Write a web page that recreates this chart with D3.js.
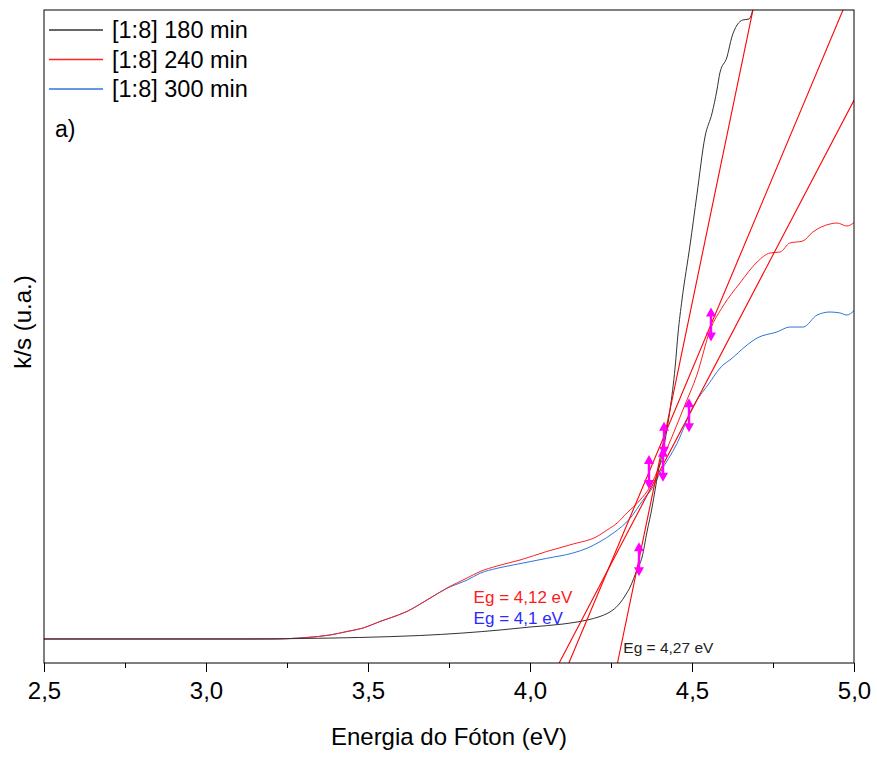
<!DOCTYPE html>
<html lang="pt">

<head>
    <title>Eg - k/s vs energia do fóton</title>
    <meta charset="utf-8">
    <script src="https://d3js.org/d3.v7.min.js"></script>
    <style>
        body { margin: 0; background: #fff; }
        svg { display: block; font-family: "Liberation Sans", Arial, sans-serif; }
    </style>
</head>

<body>
    <div id="container1"></div>
    <script>
        // Data (energy in eV, k/s in arbitrary units)
        const series = ["[1:8] 180 min", "[1:8] 240 min", "[1:8] 300 min"];
        const colors = ["#333333", "#ff2020", "#2f74dc"];

        const energy180 = [2.5, 3.136, 3.29, 3.475, 3.66, 3.793, 3.907, 4.0, 4.102, 4.176, 4.216, 4.238, 4.256, 4.278, 4.293, 4.309, 4.33, 4.346, 4.361, 4.377, 4.386, 4.395, 4.417, 4.432, 4.448, 4.457, 4.469, 4.494, 4.515, 4.54, 4.562, 4.577, 4.586, 4.608, 4.623, 4.639, 4.657, 4.676, 4.685, 4.694];
        const ks180 = [0.0368, 0.0368, 0.0375, 0.0391, 0.0421, 0.0459, 0.0505, 0.0551, 0.0597, 0.0658, 0.0712, 0.0758, 0.0812, 0.0919, 0.1026, 0.1164, 0.1424, 0.1623, 0.2006, 0.2389, 0.2649, 0.291, 0.3415, 0.3874, 0.4533, 0.5054, 0.5559, 0.6401, 0.7167, 0.8055, 0.8423, 0.8775, 0.9035, 0.928, 0.9587, 0.977, 0.9847, 0.9862, 0.9954, 1.0153];

        const energy240 = [2.5, 3.198, 3.312, 3.383, 3.435, 3.485, 3.537, 3.568, 3.62, 3.682, 3.744, 3.806, 3.846, 3.898, 3.969, 4.052, 4.133, 4.207, 4.238, 4.269, 4.299, 4.34, 4.37, 4.401, 4.438, 4.478, 4.515, 4.556, 4.596, 4.648, 4.701, 4.741, 4.772, 4.802, 4.842, 4.873, 4.926, 4.948, 4.978, 5.0];
        const ks240 = [0.0368, 0.0368, 0.0391, 0.0429, 0.0482, 0.0536, 0.0636, 0.0689, 0.0789, 0.0965, 0.1149, 0.1302, 0.1401, 0.1485, 0.1577, 0.1708, 0.1822, 0.1937, 0.2037, 0.2144, 0.2297, 0.2496, 0.2695, 0.3032, 0.3461, 0.3951, 0.441, 0.5099, 0.5467, 0.5819, 0.6141, 0.6279, 0.6294, 0.6432, 0.6462, 0.66, 0.6723, 0.6738, 0.6692, 0.6743];

        const energy300 = [2.5, 3.198, 3.312, 3.383, 3.435, 3.485, 3.537, 3.568, 3.62, 3.682, 3.744, 3.806, 3.846, 3.898, 3.948, 4.052, 4.133, 4.176, 4.216, 4.256, 4.309, 4.349, 4.38, 4.401, 4.454, 4.503, 4.549, 4.596, 4.617, 4.67, 4.701, 4.762, 4.802, 4.843, 4.886, 4.926, 4.957, 4.978, 5.0];
        const ks300 = [0.0368, 0.0368, 0.0391, 0.0429, 0.0482, 0.0536, 0.0636, 0.0689, 0.0789, 0.0965, 0.1144, 0.1271, 0.1374, 0.145, 0.1501, 0.1603, 0.1685, 0.1757, 0.1858, 0.1986, 0.2216, 0.2496, 0.27, 0.2905, 0.3365, 0.3925, 0.4257, 0.4564, 0.464, 0.487, 0.4977, 0.5069, 0.5145, 0.5145, 0.5329, 0.5375, 0.536, 0.5329, 0.5395];

        // Tangent fits: intercept with baseline (Eg) and slope
        const fitEg = [4.27, 4.12, 4.09];
        const fitSlope = [2.392, 1.182, 0.947];
        // x of the two picked points on each tangent
        const fitPoints = [[4.3364, 4.4136], [4.3673, 4.5586], [4.4105, 4.4907]];

        const egLabels = ["Eg = 4,27 eV", "Eg = 4,12 eV", "Eg = 4,1 eV"];
        const egLabelPos = [[4.288, 0.015], [3.826, 0.092], [3.826, 0.06]];
        const egLabelColors = ["#222222", "#ff1a1a", "#2a2aff"];
        const egLabelSizes = [15.5, 17, 17];

        const majorTicks = [2.5, 3.0, 3.5, 4.0, 4.5, 5.0];
        const minorTicks = [2.75, 3.25, 3.75, 4.25, 4.75];

        // Chart dimensions
        const width = 877;
        const height = 758;
        const margin = { top: 10, right: 23, bottom: 95, left: 44 };
        const innerWidth = width - margin.left - margin.right;
        const innerHeight = height - margin.top - margin.bottom;

        const svg = d3.select("#container1")
            .append("svg")
            .attr("width", width)
            .attr("height", height);

        const bounds = svg.append("g")
            .attr("transform", `translate(${margin.left},${margin.top})`);

        svg.append("defs").append("clipPath")
            .attr("id", "plotClip")
            .append("rect")
            .attr("width", innerWidth)
            .attr("height", innerHeight);

        // Scales
        const x = d3.scaleLinear().domain([2.5, 5.0]).range([0, innerWidth]);
        const y = d3.scaleLinear().domain([0, 1]).range([innerHeight, 0]);

        // Axes
        const xAxis = bounds.append("g")
            .attr("transform", `translate(0,${innerHeight})`)
            .call(d3.axisBottom(x).tickValues(majorTicks)
                .tickFormat(d => d.toFixed(1).replace(".", ","))
                .tickSize(9).tickPadding(10));
        xAxis.selectAll("text").attr("font-size", 24).attr("font-family", "Liberation Sans").attr("fill", "#000");
        xAxis.select(".domain").remove();

        const xMinor = bounds.append("g")
            .attr("transform", `translate(0,${innerHeight})`)
            .call(d3.axisBottom(x).tickValues(minorTicks).tickFormat("").tickSize(5));
        xMinor.select(".domain").remove();

        // Curves
        const curveLine = d3.line().x(d => x(d[0])).y(d => y(d[1])).curve(d3.curveMonotoneX);
        const straight = d3.line().x(d => x(d[0])).y(d => y(d[1]));
        const curves = [
            d3.zip(energy180, ks180),
            d3.zip(energy240, ks240),
            d3.zip(energy300, ks300)
        ];

        const plot = bounds.append("g").attr("clip-path", "url(#plotClip)");

        // draw 300 first so the red/black sit above
        [2, 1, 0].forEach(i => {
            plot.append("path")
                .datum(curves[i])
                .attr("d", curveLine)
                .attr("fill", "none")
                .attr("stroke", colors[i])
                .attr("stroke-width", 1);
        });

        // Tangent lines
        fitEg.forEach((eg, i) => {
            const pts = [[eg, 0], [5.3, fitSlope[i] * (5.3 - eg)]];
            plot.append("path")
                .datum(pts)
                .attr("d", straight)
                .attr("fill", "none")
                .attr("stroke", "#ff0000")
                .attr("stroke-width", 1.1);
        });

        // Picked points (double arrows)
        const arrow = "M0,-17 L5,-8 L1.2,-8 L1.2,8 L5,8 L0,17 L-5,8 L-1.2,8 L-1.2,-8 L-5,-8 Z";
        fitPoints.forEach((pair, i) => {
            pair.forEach(px => {
                const py = fitSlope[i] * (px - fitEg[i]);
                bounds.append("path")
                    .attr("d", arrow)
                    .attr("transform", `translate(${x(px)},${y(py)})`)
                    .attr("fill", "#ff00ff");
            });
        });

        // Frame
        bounds.append("rect")
            .attr("width", innerWidth)
            .attr("height", innerHeight)
            .attr("fill", "none")
            .attr("stroke", "#000")
            .attr("stroke-width", 1);

        // Eg labels
        egLabels.forEach((t, i) => {
            bounds.append("text")
                .attr("x", x(egLabelPos[i][0]))
                .attr("y", y(egLabelPos[i][1]))
                .attr("font-size", egLabelSizes[i])
                .attr("fill", egLabelColors[i])
                .text(t);
        });

        // Legend
        const legend = bounds.append("g").attr("transform", "translate(5,20)");
        series.forEach((s, i) => {
            legend.append("line")
                .attr("x1", 0).attr("x2", 54)
                .attr("y1", i * 29.5).attr("y2", i * 29.5)
                .attr("stroke", colors[i])
                .attr("stroke-width", 1.3);
            legend.append("text")
                .attr("x", 63)
                .attr("y", i * 29.5 + 8)
                .attr("font-size", 23.5)
                .text(s);
        });

        bounds.append("text")
            .attr("x", 11)
            .attr("y", 127)
            .attr("font-size", 23)
            .text("a)");

        // Axis titles
        svg.append("text")
            .attr("x", margin.left + innerWidth / 2)
            .attr("y", 745)
            .attr("text-anchor", "middle")
            .attr("font-size", 24)
            .text("Energia do Fóton (eV)");

        svg.append("text")
            .attr("transform", "translate(31,322) rotate(-90)")
            .attr("text-anchor", "middle")
            .attr("font-size", 24)
            .text("k/s (u.a.)");
    </script>
</body>

</html>
